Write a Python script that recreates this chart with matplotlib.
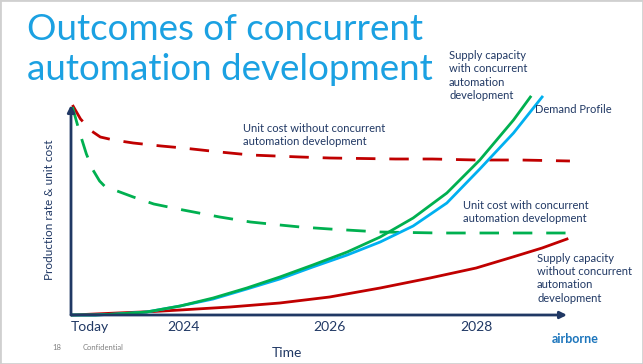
import matplotlib.pyplot as plt
from matplotlib.patches import Rectangle

# slide colours
navy = '#203864'
red = '#C00000'
green = '#00B050'
blue = '#00B0F0'
titleBlue = '#1BA1E2'

# years on x, height above the time axis on y (arbitrary units)
unitCostWithoutX = [2022.49, 2022.6, 2022.75, 2022.87, 2023.05, 2023.32, 2023.7, 2024.0, 2024.5, 2024.92, 2025.6, 2026.0, 2026.9, 2027.4, 2028.0, 2028.6, 2029.28]
unitCostWithoutY = [210, 196, 184, 178, 175, 172, 169, 167, 163, 160, 158, 157, 156, 156, 155, 155, 154]

unitCostWithX = [2022.49, 2022.59, 2022.68, 2022.77, 2022.86, 2022.94, 2023.1, 2023.32, 2023.6, 2024.0, 2024.5, 2024.92, 2025.32, 2025.6, 2026.0, 2026.69, 2027.5, 2028.5, 2029.22]
unitCostWithY = [208, 182, 161, 145, 134, 128, 124, 118, 111, 105, 98, 93, 90, 88, 86, 83, 82, 82, 82]

supplyWithX = [2022.49, 2022.8, 2023.1, 2023.5, 2023.96, 2024.41, 2024.87, 2025.32, 2025.77, 2026.24, 2026.69, 2027.14, 2027.6, 2028.05, 2028.51, 2028.74]
supplyWithY = [0, 0, 1, 3, 9, 17, 27, 38, 50, 63, 78, 97, 122, 155, 195, 218]

demandX = [2022.49, 2022.8, 2023.1, 2023.5, 2023.96, 2024.41, 2024.87, 2025.32, 2025.77, 2026.24, 2026.69, 2027.14, 2027.6, 2028.05, 2028.51, 2028.9]
demandY = [0, 0, 1, 3, 9, 16, 26, 36, 48, 60, 73, 89, 112, 146, 182, 218]

supplyWithoutX = [2022.49, 2023.1, 2023.6, 2023.96, 2024.64, 2025.32, 2026.0, 2026.69, 2027.37, 2028.0, 2028.5, 2028.9, 2029.24]
supplyWithoutY = [0, 2, 3.5, 5, 8, 12, 18, 27, 37, 47, 58, 67, 76]

tickPos = [2022.73, 2024, 2026, 2028]
tickLabels = ['Today', '2024', '2026', '2028']

W, H = 643, 364
fig = plt.figure(figsize=(W / 100, H / 100), dpi=100)
plt.rcParams['font.family'] = ['Lato', 'DejaVu Sans']

def px(x, y):
    return x / W, 1 - y / H

# thin grey slide frame
fig.patches.append(Rectangle((0, 0), 1, 1, transform=fig.transFigure, fill=False,
                             edgecolor='#D0D0D0', lw=2))

# axes box in pixels: left 71, right 567, top 105, bottom 315
ax = fig.add_axes([71 / W, 1 - 315 / H, (567 - 71) / W, (315 - 105) / H])
ax.set_xlim(2022.47, 2029.24)
ax.set_ylim(0, 210)
for s in ax.spines.values():
    s.set_visible(False)
ax.set_yticks([])
ax.set_xticks(tickPos)
ax.set_xticklabels(tickLabels, fontsize=10, color=navy)
ax.tick_params(axis='x', length=0, pad=4)
ax.patch.set_alpha(0)

ax.plot(unitCostWithoutX, unitCostWithoutY, color=red, lw=2, dashes=(7, 5), clip_on=False)
ax.plot(unitCostWithX, unitCostWithY, color=green, lw=2, dashes=(7, 5), clip_on=False)
ax.plot(supplyWithoutX, supplyWithoutY, color=red, lw=2, clip_on=False)
ax.plot(demandX, demandY, color=blue, lw=2, clip_on=False)
ax.plot(supplyWithX, supplyWithY, color=green, lw=2, clip_on=False)

# axis arrows
ax.annotate('', xy=(0, 1), xytext=(0, 0), xycoords='axes fraction',
            arrowprops=dict(arrowstyle='-|>', color=navy, lw=2, mutation_scale=10, shrinkA=0, shrinkB=0))
ax.annotate('', xy=(1, 0), xytext=(0, 0), xycoords='axes fraction',
            arrowprops=dict(arrowstyle='-|>', color=navy, lw=2, mutation_scale=10, shrinkA=0, shrinkB=0))

ax.set_xlabel('Time', fontsize=10, color=navy)
ax.xaxis.set_label_coords((287 - 71) / (567 - 71), -(347 - 315) / (315 - 105))
ax.set_ylabel('Production rate & unit cost', fontsize=8.5, color=navy)
ax.yaxis.set_label_coords(-(71 - 55) / (567 - 71), 0.5)

# title, two lines
fig.text(*px(27, 29), 'Outcomes of concurrent', fontsize=26.5, color=titleBlue,
         va='center', ha='left')
fig.text(*px(27, 69), 'automation development', fontsize=26.5, color=titleBlue,
         va='center', ha='left')

lbl = dict(fontsize=8, color=navy, ha='left', va='top', linespacing=1.25)
fig.text(*px(449, 50), 'Supply capacity\nwith concurrent\nautomation\ndevelopment', **lbl)
fig.text(*px(535, 104), 'Demand Profile', **lbl)
fig.text(*px(243, 123), 'Unit cost without concurrent\nautomation development', **lbl)
fig.text(*px(463, 200), 'Unit cost with concurrent\nautomation development', **lbl)
fig.text(*px(537, 253), 'Supply capacity\nwithout concurrent\nautomation\ndevelopment', **lbl)

# footer
fig.text(*px(57, 347), '18', fontsize=5.5, color='#808080', ha='center', va='center')
fig.text(*px(103, 347), 'Confidential', fontsize=5.5, color='#808080', ha='center', va='center')
fig.text(*px(575, 339), 'airborne', fontsize=9, color='#1C75BC', fontweight='bold', ha='center', va='center')

fig.savefig('out.png', dpi=100)
